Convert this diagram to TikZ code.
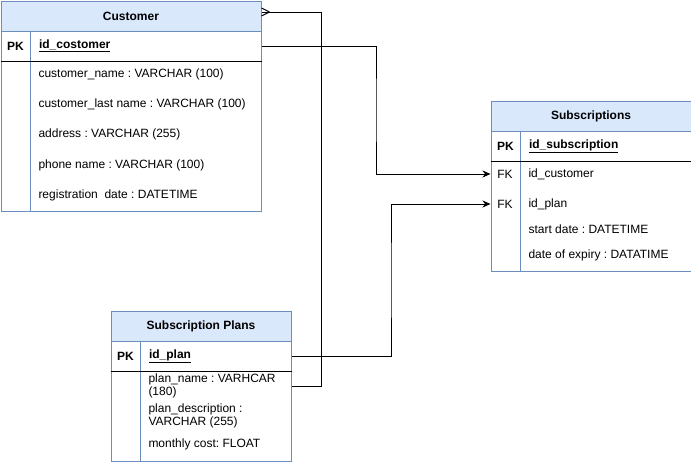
\documentclass[tikz,border=0pt]{standalone}
\usepackage{fontspec}
\setmainfont{Liberation Sans}
\usetikzlibrary{arrows.meta,calc,positioning}
\definecolor{headfill}{HTML}{DAE8FC}
\definecolor{tableline}{HTML}{6C8EBF}
\frenchspacing

\begin{document}
\begin{tikzpicture}[x=1pt,y=-1pt,line width=1pt,
    font=\fontsize{12}{13}\selectfont,
    tablehead/.style={draw=tableline,fill=headfill,minimum height=30pt,anchor=north west,
        inner sep=0pt,font=\fontsize{12}{13}\selectfont\bfseries},
    tablerow/.style={draw=tableline,fill=white,anchor=north west,inner sep=0pt},
    keytext/.style={anchor=center,inner sep=0pt},
    pkkey/.style={keytext,font=\fontsize{12}{13}\selectfont\bfseries},
    fieldtext/.style={anchor=west,inner sep=0pt,align=left},
    pkfield/.style={fieldtext,font=\fontsize{12}{13}\selectfont\bfseries},
    link/.style={draw=black,line width=1pt},
    fkarrow/.style={link,-{Stealth[length=8pt,width=7pt]}}]
    \useasboundingbox (0,0) rectangle (691,461);

    % Customer
    \node[tablehead,minimum width=260pt] (custhead) at (0.5,0.5) {Customer};
    \node[tablerow,minimum width=260pt,minimum height=30pt] (custpk) at (0.5,30.5) {};
    \node[tablerow,minimum width=260pt,minimum height=150pt] (custbody) at (0.5,60.5) {};
    \draw[tableline] ($(custpk.north west)+(30,0)$) -- ($(custbody.south west)+(30,0)$);
    \draw (custpk.south west) -- (custpk.south east);
    \node[pkkey] (custkey) at ($(custpk.west)+(15,0)$) {PK};
    \node[pkfield] (custid) at ($(custpk.west)+(38,0)$) {\underline{id\_costomer}};
    \foreach \yy/\txt [count=\i] in {74/customer\_name : VARCHAR (100),
            104/customer\_last name : VARCHAR (100),
            134/address : VARCHAR (255),
            165/phone name : VARCHAR (100),
            195/registration\ \ date : DATETIME}
        \node[fieldtext] (custf\i) at (38,\yy) {\txt};

    % Subscription Plans
    \node[tablehead,minimum width=180pt] (planhead) at (110.5,310.5) {Subscription Plans};
    \node[tablerow,minimum width=180pt,minimum height=30pt] (planpk) at (110.5,340.5) {};
    \node[tablerow,minimum width=180pt,minimum height=90pt] (planbody) at (110.5,370.5) {};
    \draw[tableline] ($(planpk.north west)+(30,0)$) -- ($(planbody.south west)+(30,0)$);
    \draw (planpk.south west) -- (planpk.south east);
    \node[pkkey] (plankey) at ($(planpk.west)+(15,0)$) {PK};
    \node[pkfield] (planid) at ($(planpk.west)+(38,0)$) {\underline{id\_plan}};
    \node[fieldtext] (planname) at (148,386) {plan\_name : VARHCAR\\(180)};
    \node[fieldtext] (plandesc) at (148,416) {plan\_description :\\VARCHAR (255)};
    \node[fieldtext] (plancost) at (148,444) {monthly cost: FLOAT};

    % Subscriptions
    \node[tablehead,minimum width=200pt] (subhead) at (490.5,100.5) {Subscriptions};
    \node[tablerow,minimum width=200pt,minimum height=30pt] (subpk) at (490.5,130.5) {};
    \node[tablerow,minimum width=200pt,minimum height=110pt] (subbody) at (490.5,160.5) {};
    \draw[tableline] ($(subpk.north west)+(30,0)$) -- ($(subbody.south west)+(30,0)$);
    \draw (subpk.south west) -- (subpk.south east);
    \node[pkkey] (subkey) at ($(subpk.west)+(15,0)$) {PK};
    \node[pkfield] (subid) at ($(subpk.west)+(38,0)$) {\underline{id\_subscription}};
    \node[keytext] (fkcust) at (505,174) {FK};
    \node[keytext] (fkplan) at (505,204) {FK};
    \node[fieldtext] (subcust) at (528,174) {id\_customer};
    \node[fieldtext] (subplan) at (528,204) {id\_plan};
    \node[fieldtext] (substart) at (528,229) {start date : DATETIME};
    \node[fieldtext] (subexpiry) at (528,255) {date of expiry : DATATIME};

    % relations
    \coordinate (custin) at (subbody.west |- fkcust);
    \coordinate (planin) at (subbody.west |- fkplan);
    \coordinate (custout) at ([yshift=4pt]custhead.east);
    \draw[fkarrow] (custpk.east) -| ($(custpk.east)!.5!(custin)$) |- (custin);
    \draw[fkarrow] (planpk.east) -| ($(planpk.east)!.5!(planin)$) |- (planin);
    \draw[link] (planbody.east |- planname) -- ++(30,0) |- (custout);
    % crow's foot on the customer side
    \draw[link] ($(custout)+(8,0)$) -- ($(custout)+(0,-4)$)
        ($(custout)+(8,0)$) -- ($(custout)+(0,4)$);
\end{tikzpicture}
\end{document}
